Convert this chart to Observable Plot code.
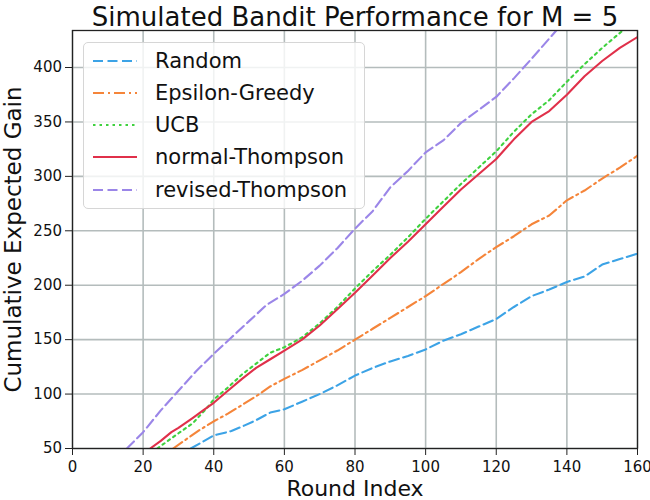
<!DOCTYPE html>
<html>
<head>
<meta charset="utf-8">
<script src="https://cdn.jsdelivr.net/npm/d3@7"></script>
<script src="https://cdn.jsdelivr.net/npm/@observablehq/plot@0.6"></script>
<style>
  html, body { margin: 0; padding: 0; background: #fff; }
  #wrap { position: relative; width: 650px; height: 500px; font-family: "DejaVu Sans", sans-serif; }
  #legend { position: absolute; left: 83px; top: 42px; width: 282px; height: 167px;
    box-sizing: border-box; border: 1px solid #d6d6d6; border-radius: 5px; background: rgba(255,255,255,0.8); }
  .row { position: absolute; left: 0; height: 30px; display: flex; align-items: center; }
  .row svg { margin-left: 8px; }
  .row span { position: absolute; left: 71px; white-space: nowrap; font-size: 21px; color: #111; line-height: 30px; }
</style>
</head>
<body>
<div id="wrap"><div id="legend"></div></div>
<script>
// ---- data ----
const seriesNames = ["Random", "Epsilon-Greedy", "UCB", "normal-Thompson", "revised-Thompson"];

const randomRound = [33.5, 40, 45, 48.6, 52, 56, 60, 65, 70, 75, 80, 85, 90, 95, 100, 105, 110, 115, 120, 125, 130, 135, 140, 145, 150, 155, 160];
const randomGain  = [50, 62, 66, 71, 76, 83, 86, 93, 100, 108, 117, 124, 130, 135, 141, 149, 155, 162, 169, 180, 190, 196, 203, 208, 219, 224, 229];

const epsRound = [28.5, 32, 36, 40, 44, 48, 52, 56, 60, 65, 70, 75, 80, 85, 90, 95, 100, 105, 110, 115, 120, 125, 130, 135, 140, 145, 150, 155, 160];
const epsGain  = [50, 58, 67, 75, 82, 90, 98, 107, 114, 122, 131, 140, 150, 160, 170, 180, 190, 201, 212, 224, 235, 245, 256, 264, 278, 287, 298, 308, 319];

const ucbRound = [24, 27, 30, 34, 38, 40, 44, 48, 52, 56, 60, 65, 70, 75, 80, 85, 90, 95, 100, 105, 110, 115, 120, 125, 130, 135, 140, 145, 150, 156, 160];
const ucbGain  = [50, 57, 64, 73, 87, 95, 106, 118, 128, 138, 143, 152, 165, 180, 197, 213, 228, 244, 261, 277, 293, 308, 323, 341, 357, 370, 387, 403, 418, 434.5, 448];

const normRound = [22, 25, 28, 30, 34, 37, 40, 44, 48, 52, 56, 60, 65, 70, 75, 80, 85, 90, 95, 100, 105, 110, 115, 120, 125, 130, 135, 140, 145, 150, 155, 160];
const normGain  = [50, 57, 65, 69, 78, 85, 92, 103, 114, 124, 132, 140, 150, 163, 178, 193, 209, 225, 240, 256, 272, 288, 302, 316, 334, 350, 360, 375, 392, 406, 418, 428];

const revRound = [15.4, 20, 25, 30, 35, 40, 45, 50, 55, 60, 65, 70, 75, 80, 85, 90, 95, 100, 105, 110, 115, 120, 125, 130, 137, 140];
const revGain  = [50, 65, 85, 103, 121, 137, 152, 167, 182, 192, 204, 218, 234, 252, 268, 290, 305, 322, 333, 349, 361, 373, 390, 408, 434, 444];

const xTicks = [0, 20, 40, 60, 80, 100, 120, 140, 160];
const yTicks = [50, 100, 150, 200, 250, 300, 350, 400];

const colors = ["#3ca3e6", "#f5853a", "#3fd13f", "#e0304a", "#9b86e8"];
const dashes = ["10,4.5", "11,4,2,4", "2.5,4", null, "10,4.5"];

const rounds = [randomRound, epsRound, ucbRound, normRound, revRound];
const gains = [randomGain, epsGain, ucbGain, normGain, revGain];
const tables = rounds.map((r, i) => r.map((x, j) => ({round: x, gain: gains[i][j]})));

const font = "DejaVu Sans, sans-serif";

const plot = Plot.plot({
  width: 650,
  height: 500,
  marginLeft: 72,
  marginRight: 13,
  marginTop: 30,
  marginBottom: 52,
  style: {fontFamily: font, background: "white", overflow: "visible"},
  x: {domain: [0, 160], label: null},
  y: {domain: [50, 434], label: null},
  marks: [
    Plot.gridX(xTicks, {stroke: "#b4bcbc", strokeOpacity: 1, strokeWidth: 1.6}),
    Plot.gridY(yTicks, {stroke: "#b4bcbc", strokeOpacity: 1, strokeWidth: 1.6}),
    ...tables.map((t, i) => Plot.line(t, {
      x: "round", y: "gain", stroke: colors[i], strokeWidth: 2.1,
      strokeDasharray: dashes[i] || undefined, clip: true, curve: "linear"
    })),
    Plot.frame({stroke: "#222", strokeWidth: 1.3}),
    Plot.axisX(xTicks, {tickSize: 7, tickPadding: 6, fontSize: 15, stroke: "#222", fill: "#111", label: null}),
    Plot.axisY(yTicks, {tickSize: 7, tickPadding: 3.5, fontSize: 15, stroke: "#222", fill: "#111", label: null}),
    Plot.text(["Simulated Bandit Performance for M = 5"], {frameAnchor: "top", dy: -13, fontSize: 26, fill: "#111", lineAnchor: "middle"}),
    Plot.text(["Round Index"], {frameAnchor: "bottom", dy: 40, fontSize: 22, fill: "#111", lineAnchor: "middle"}),
    Plot.text(["Cumulative Expected Gain"], {frameAnchor: "left", dx: -59, rotate: -90, textAnchor: "middle", fontSize: 23, fill: "#111", lineAnchor: "middle"})
  ]
});

document.getElementById("wrap").appendChild(plot);
plot.style.position = "absolute";
plot.style.left = "0";
plot.style.top = "0";

// legend (drawn on top, like matplotlib's)
const legend = document.getElementById("legend");
document.getElementById("wrap").appendChild(legend);
const rowCenters = [60.7, 92.9, 125.1, 157.3, 189.5];
seriesNames.forEach((name, i) => {
  const row = document.createElement("div");
  row.className = "row";
  row.style.top = (rowCenters[i] - 42 - 1 - 15) + "px";
  row.style.width = "280px";
  const svg = d3.create("svg").attr("width", 46).attr("height", 30);
  const ln = svg.append("line").attr("x1", 1).attr("x2", 45).attr("y1", 15).attr("y2", 15)
    .attr("stroke", colors[i]).attr("stroke-width", 2.1);
  if (dashes[i]) ln.attr("stroke-dasharray", dashes[i]);
  row.appendChild(svg.node());
  const sp = document.createElement("span");
  sp.textContent = name;
  row.appendChild(sp);
  legend.appendChild(row);
});
</script>
</body>
</html>
